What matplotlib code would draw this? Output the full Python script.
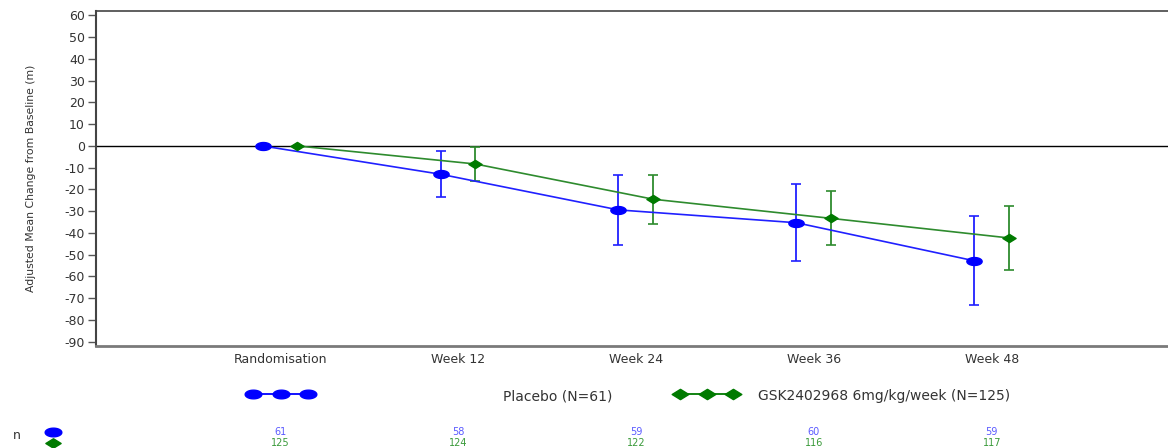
import numpy as np
import matplotlib
matplotlib.use("Agg")
import matplotlib.pyplot as plt
from matplotlib.path import Path
from matplotlib.lines import Line2D
from matplotlib.transforms import blended_transform_factory

# ---- data -------------------------------------------------------------
visits = ["Randomisation", "Week 12", "Week 24", "Week 36", "Week 48"]

placebo_label = "Placebo (N=61)"
placebo_mean = [0.0, -13.0, -29.4, -35.3, -52.8]
placebo_lower = [np.nan, -23.5, -45.4, -52.8, -73.2]
placebo_upper = [np.nan, -2.3, -13.2, -17.3, -32.4]
placebo_n = [61, 58, 59, 60, 59]

gsk_label = "GSK2402968 6mg/kg/week (N=125)"
gsk_mean = [0.0, -8.3, -24.5, -33.3, -42.3]
gsk_lower = [np.nan, -16.2, -36.1, -45.7, -57.0]
gsk_upper = [np.nan, -0.3, -13.2, -20.8, -27.8]
gsk_n = [125, 124, 122, 116, 117]

y_ticks = list(range(60, -91, -10))

# ---- styling ------------------------------------------------------------
BLUE = "#0000ff"
BLUE_LINE = "#2020ff"
BLUE_TXT = "#5a5aff"
GREEN = "#007a00"
GREEN_LINE = "#2e8b2e"
GREEN_TXT = "#3a9a3a"
TXT = "#333333"
FONT = "DejaVu Sans"

plt.rcParams["font.family"] = [FONT]

# flattened ellipse and diamond markers
t = np.linspace(0, 2 * np.pi, 40)
ellipse = Path(np.column_stack([np.cos(t), 0.52 * np.sin(t)]), closed=True)
diamond = Path([(-1, 0), (0, 0.62), (1, 0), (0, -0.62), (-1, 0)], closed=True)

W, H = 1168, 448
fig = plt.figure(figsize=(W / 100, H / 100), dpi=100)
ax = fig.add_axes([96 / W, (H - 345.7) / H, 1 - 96 / W, (345.7 - 11) / H])

x = np.arange(len(visits))
shift = 0.098


def draw_series(xpos, mean, lower, upper, line_c, mark_c, marker, ms):
    mean = np.asarray(mean)
    lower = np.asarray(lower)
    upper = np.asarray(upper)
    ok = ~np.isnan(lower)
    yerr = np.vstack([mean[ok] - lower[ok], upper[ok] - mean[ok]])
    ax.errorbar(xpos[ok], mean[ok], yerr=yerr, fmt="none", ecolor=line_c,
                elinewidth=1.3, capsize=3.8, capthick=1.2, zorder=3)
    ax.plot(xpos, mean, color=line_c, lw=1.2, zorder=4)
    ax.plot(xpos, mean, linestyle="none", marker=marker, ms=ms,
            color=mark_c, mec=mark_c, zorder=5)


ax.axhline(0, color="black", lw=1.0, zorder=2)
draw_series(x - shift, placebo_mean, placebo_lower, placebo_upper,
            BLUE_LINE, BLUE, ellipse, 11)
draw_series(x + shift, gsk_mean, gsk_lower, gsk_upper,
            GREEN_LINE, GREEN, diamond, 9.5)

ax.set_xlim(-1.034, 4.99)
ax.set_ylim(-91.8, 62.0)
ax.set_yticks(y_ticks)
ax.set_yticklabels([str(v) for v in y_ticks])
ax.set_xticks(x)
ax.set_xticklabels(visits)

ax.tick_params(axis="y", direction="out", length=6, width=1.0, color="#555555",
               labelsize=9, labelcolor=TXT, pad=2)
ax.tick_params(axis="x", length=0, labelsize=9, labelcolor=TXT, pad=5)

ax.spines["right"].set_visible(False)
ax.spines["left"].set_color("#444444")
ax.spines["left"].set_linewidth(1.5)
ax.spines["top"].set_color("#444444")
ax.spines["top"].set_linewidth(1.2)
ax.spines["bottom"].set_color("#7a7a7a")
ax.spines["bottom"].set_linewidth(2.0)

ax.set_ylabel("Adjusted Mean Change from Baseline (m)", fontsize=7.8,
              color=TXT, labelpad=4)
ax.yaxis.set_label_coords(-(96 - 36) / (W - 96), 0.5)

# ---- legend row -------------------------------------------------------------
def fx(px):
    return px / W


def fy(py):
    return 1 - py / H


def legend_sample(x0, step, py, color, marker, ms):
    xs = [fx(x0 + i * step) for i in range(3)]
    fig.add_artist(Line2D(xs, [fy(py)] * 3, transform=fig.transFigure,
                          color=color, lw=1.3, marker=marker, ms=ms,
                          mfc=color, mec=color))


legend_sample(253, 27.5, 394, BLUE, ellipse, 12)
fig.text(fx(503), fy(396), placebo_label, fontsize=10, color=TXT,
         ha="left", va="center")
legend_sample(680, 26.5, 394, GREEN, diamond, 12)
fig.text(fx(758), fy(396), gsk_label, fontsize=10, color=TXT,
         ha="left", va="center")

# ---- numbers at risk -----------------------------------------------------------
fig.text(fx(16.7), fy(435), "n", fontsize=9, color=TXT, ha="center",
         va="center")
fig.add_artist(Line2D([fx(53)], [fy(432)], transform=fig.transFigure,
                      linestyle="none", marker=ellipse, ms=12,
                      color=BLUE, mec=BLUE))
fig.add_artist(Line2D([fx(53)], [fy(442.5)], transform=fig.transFigure,
                      linestyle="none", marker=diamond, ms=11,
                      color=GREEN, mec=GREEN))

row = blended_transform_factory(ax.transData, fig.transFigure)
for xi, nb, ng in zip(x, placebo_n, gsk_n):
    ax.text(xi, fy(432), str(nb), transform=row, fontsize=7,
            color=BLUE_TXT, ha="center", va="center", clip_on=False)
    ax.text(xi, fy(443.2), str(ng), transform=row, fontsize=7,
            color=GREEN_TXT, ha="center", va="center", clip_on=False)

fig.savefig("out.png", dpi=100)
